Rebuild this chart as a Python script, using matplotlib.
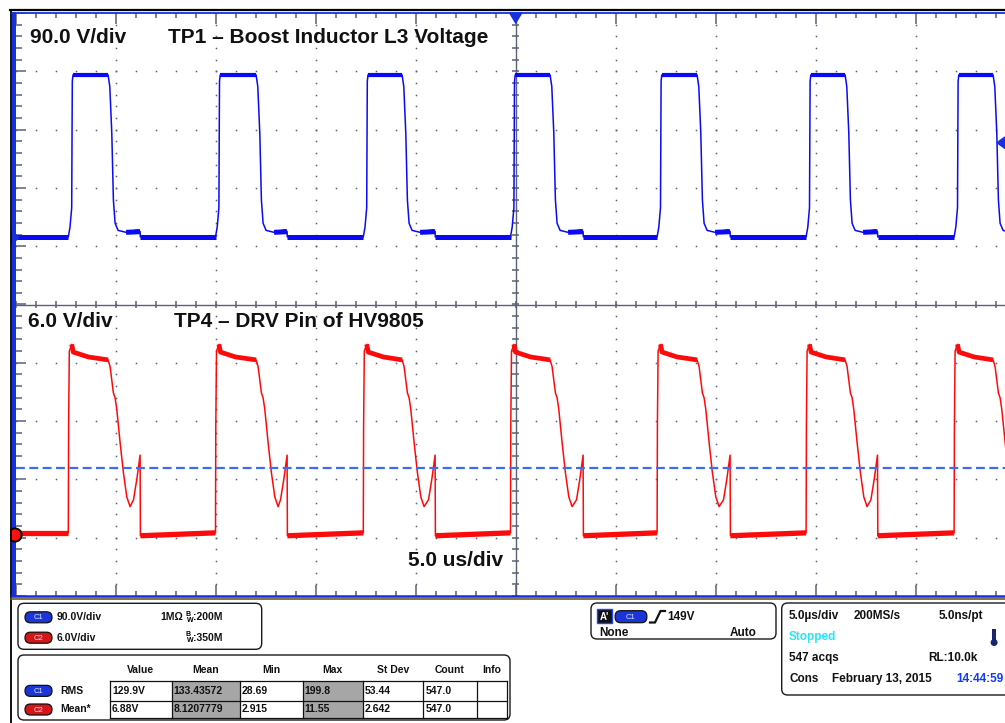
import numpy as np
import matplotlib
matplotlib.use("Agg")
import matplotlib.pyplot as plt
from matplotlib.patches import FancyBboxPatch, Rectangle, Polygon, Circle
from matplotlib.collections import LineCollection

plt.rcParams['font.family'] = ['Liberation Sans', 'DejaVu Sans']

W, H = 1005, 723

# ---- waveform timing (us, 5 us/div) ----
rise_us = [2.63, 9.99, 17.38, 24.74, 32.07, 39.52, 46.92]
fall_us = [4.62, 12.02, 19.32, 26.72, 34.07, 41.47, 48.87]
drop_us = [6.22, 13.57, 20.97, 28.37, 35.72, 43.09, 50.45]

# C1 - boost inductor voltage, 90 V/div (offsets in us, levels in V)
c1_rise_dt = [0.0, 0.085, 0.17, 0.2, 0.235]
c1_rise_v = [0, 15, 45, 240, 250]
c1_fall_dt = [0.0, 0.085, 0.185, 0.265, 0.35, 0.5, 0.9]
c1_fall_v = [250, 232, 160, 57, 21, 10, 7]
c1_low_v = 0
c1_bump_v = 8

# C2 - DRV pin, 6 V/div
c2_rise_dt = [0.0, 0.015, 0.05, 0.17, 0.25, 1.0]
c2_rise_v = [0.2, 11.1, 18.9, 19.6, 18.8, 18.3]
c2_fall_dt = [0.0, 0.1, 0.265, 0.35, 0.435, 0.6, 0.765, 0.935, 1.1]
c2_fall_v = [18.0, 17.3, 14.6, 14.1, 12.9, 9.5, 6.4, 3.9, 2.9]
c2_spike_dt = [-0.33, -0.165, 0.0, 0.015]
c2_spike_v = [3.6, 5.7, 8.2, -0.1]
c2_low_v = [-0.1, 0.2]
c2_mean_v = 6.88

# channel setup (volts per div, ground position in div from centre)
c1_vdiv, c1_zero = 90.0, 1.16
c2_vdiv, c2_zero = 6.0, -3.95

# measurement table
tbl_cols = ['Value', 'Mean', 'Min', 'Max', 'St Dev', 'Count', 'Info']
tbl_rows = ['RMS', 'Mean*']
tbl_c1 = ['129.9V', '133.43572', '28.69', '199.8', '53.44', '547.0', '']
tbl_c2 = ['6.88V', '8.1207779', '2.915', '11.55', '2.642', '547.0', '']


def c1_trace():
    t, v, thick = [0.0], [c1_low_v], []
    prev = 0.0
    for tr, tf, td in zip(rise_us, fall_us, drop_us):
        thick.append(([prev, tr], [c1_low_v, c1_low_v], 3.6))
        t += [tr + d for d in c1_rise_dt]
        v += c1_rise_v
        thick.append(([tr + c1_rise_dt[-1], tf], [c1_rise_v[-1], c1_fall_v[0]], 3.0))
        t += [tf + d for d in c1_fall_dt]
        v += c1_fall_v
        t += [td - 0.1, td, td + 0.01]
        v += [c1_bump_v + 3, c1_bump_v, c1_low_v]
        thick.append(([tf + c1_fall_dt[-1], td], [c1_fall_v[-1], c1_bump_v], 3.6))
        prev = td + 0.01
    return np.array(t), np.array(v), thick


def c2_trace():
    t, v, thick = [0.0], [c2_low_v[1]], []
    prev, prev_v = 0.0, c2_low_v[1]
    for tr, tf, td in zip(rise_us, fall_us, drop_us):
        thick.append(([prev, tr], [prev_v, c2_low_v[1]], 3.8))
        t += [tr + d for d in c2_rise_dt]
        v += c2_rise_v
        thick.append(([tr + d for d in c2_rise_dt[3:]] + [tf],
                      c2_rise_v[3:] + [c2_fall_v[0]], 3.4))
        t += [tf + d for d in c2_fall_dt]
        v += c2_fall_v
        t += [td + d for d in c2_spike_dt]
        v += c2_spike_v
        prev, prev_v = td + c2_spike_dt[-1], c2_low_v[0]
    return np.array(t), np.array(v), thick


fig = plt.figure(figsize=(W / 100, H / 100), dpi=100)
fig.patch.set_facecolor('white')

# scope screen: 10 x 10 divisions, 100 px by 58.3 px each
left_px, top_px, dx_px, dy_px = 15.7, 13.0, 100.0, 58.3
ax = fig.add_axes([left_px / W, 1 - (top_px + 10 * dy_px) / H,
                   10 * dx_px / W, 10 * dy_px / H])
ax.set_xlim(0, 50)
ax.set_ylim(-5, 5)
ax.axis('off')
ax.set_zorder(1)

grid_c = '#5a6172'
for xv in [5, 10, 15, 20, 30, 35, 40, 45]:
    ys = np.arange(-5, 5.001, 0.2)
    ax.plot(np.full_like(ys, xv), ys, ls='none', marker='s', ms=1.1,
            mew=0, color=grid_c)
for yv in [-4, -3, -2, -1, 1, 2, 3, 4]:
    xs = np.arange(0, 50.001, 1.0)
    ax.plot(xs, np.full_like(xs, yv), ls='none', marker='s', ms=1.1,
            mew=0, color=grid_c)
ax.axvline(25, color=grid_c, lw=1.0)
ax.axhline(0, color=grid_c, lw=1.0)

segs = []
for yv in np.arange(-5, 5.001, 0.2):
    segs.append([(25 - 0.17, yv), (25 + 0.17, yv)])
    major = abs(yv - round(yv)) < 1e-6
    segs.append([(0, yv), (0.5 if major else 0.3, yv)])
for xv in np.arange(0, 50.001, 1.0):
    segs.append([(xv, -0.06), (xv, 0.06)])
    major = int(round(xv)) % 5 == 0
    ln = 0.19 if major else 0.08
    segs.append([(xv, 5), (xv, 5 - ln)])
    segs.append([(xv, -5), (xv, -5 + ln)])
ax.add_collection(LineCollection(segs, colors=grid_c, linewidths=1.1))

blue, red = '#0a0af5', '#ff0a0a'
t1, v1, thick1 = c1_trace()
ax.plot(t1, c1_zero + v1 / c1_vdiv, color=blue, lw=1.1)
for ts, vs, lw in thick1:
    ax.plot(ts, c1_zero + np.array(vs) / c1_vdiv, color=blue, lw=lw,
            solid_capstyle='butt')
t2, v2, thick2 = c2_trace()
ax.plot(t2, c2_zero + v2 / c2_vdiv, color=red, lw=1.1)
for ts, vs, lw in thick2:
    ax.plot(ts, c2_zero + np.array(vs) / c2_vdiv, color=red, lw=lw,
            solid_capstyle='butt')
ax.axhline(c2_zero + c2_mean_v / c2_vdiv, color='#3b6cf2', lw=1.6,
           dashes=(4, 2))

# overlay in pixel coordinates for frame, labels and status panel
ov = fig.add_axes([0, 0, 1, 1])
ov.set_xlim(0, W)
ov.set_ylim(H, 0)
ov.axis('off')
ov.set_zorder(2)
ov.patch.set_visible(False)

ov.plot([10, W], [10, 10], color='black', lw=1.6)
ov.plot([10.5, 10.5], [10, H], color='black', lw=1.3)
ov.plot([12, W], [12.6, 12.6], color='#1530e0', lw=1.3)
ov.add_patch(Rectangle((11.8, 12), 4, 585, color='#1530e0', lw=0))
ov.plot([12, W], [596, 596], color='#1530e0', lw=1.8)
ov.plot([11, W], [598.8, 598.8], color='#6e5a28', lw=1.2)

ov.add_patch(Polygon([(509.7, 13), (521.7, 13), (515.7, 23)], color='#1530e0'))
ov.add_patch(Polygon([(1005, 137), (1005, 148.5), (997, 142.7)], color='#1530e0'))
ov.add_patch(Polygon([(12, 231), (12, 244), (19, 237.5)], color='#1530e0'))
ov.add_patch(Circle((15, 535), 6.6, fc='#ff1010', ec='black', lw=1.4))
ov.add_patch(Rectangle((0, 525), 10, 22, color='white', lw=0))

big = dict(fontsize=15, fontweight='bold', color='#111111', va='baseline')
ov.text(30, 43, '90.0 V/div', **big)
ov.text(168, 43, 'TP1 \u2013 Boost Inductor L3 Voltage', **big)
ov.text(28, 327, '6.0 V/div', **big)
ov.text(174, 327, 'TP4 \u2013 DRV Pin of HV9805', **big)
ov.text(503, 566, '5.0 us/div', ha='right', **big)


def box(x0, y0, x1, y1):
    ov.add_patch(FancyBboxPatch((x0, y0), x1 - x0, y1 - y0,
                                boxstyle='round,pad=0,rounding_size=6',
                                fc='white', ec='#1a1a1a', lw=1.0))


def pill(xc, yc, label, fc, w=27, h=11):
    ov.add_patch(FancyBboxPatch((xc - w / 2, yc - h / 2), w, h,
                                boxstyle='round,pad=0,rounding_size=5.5',
                                fc=fc, ec='#111111', lw=0.9))
    ov.text(xc, yc + 0.5, label, fontsize=5.5, color='#dde3ff',
            ha='center', va='center')


sm = dict(fontsize=7.5, fontweight='bold', color='#111111', va='center')
md = dict(fontsize=8.5, fontweight='bold', color='#111111', va='center')
c1_fc, c2_fc = '#1a36d8', '#d41616'

# channel box
box(18, 603.3, 261.7, 649.3)
pill(38.5, 617.3, 'C1', c1_fc)
pill(38.5, 637.7, 'C2', c2_fc)
ov.text(57, 617.5, '90.0V/div', **sm)
ov.text(57, 638, '6.0V/div', **sm)
ov.text(160, 617.5, '1M\u03a9', **sm)
for yy, bw in [(617.5, ':200M'), (638, ':350M')]:
    ov.text(185.5, yy - 3.5, 'B', fontsize=5, fontweight='bold', va='center')
    ov.text(187, yy + 2.5, 'W', fontsize=5, fontweight='bold', va='center')
    ov.text(193, yy, bw, **sm)

# measurement table
box(18, 655, 510, 720)
col_x = [110, 171.7, 240, 302.7, 362.7, 423.3, 476.7, 507.3]
row_y = [681, 700.7, 718.3]
for ci in (1, 3):
    ov.add_patch(Rectangle((col_x[ci], row_y[0]), col_x[ci + 1] - col_x[ci],
                           row_y[2] - row_y[0], fc='#a6a6a6', lw=0))
for xx in col_x:
    ov.plot([xx, xx], [row_y[0], row_y[2]], color='#111111', lw=0.9)
for yy in row_y:
    ov.plot([col_x[0], col_x[-1]], [yy, yy], color='#111111', lw=0.9)
for i, name in enumerate(tbl_cols):
    ov.text((col_x[i] + col_x[i + 1]) / 2, 670, name, ha='center', **sm)
for r, (lab, vals, fc, cl) in enumerate([(tbl_rows[0], tbl_c1, c1_fc, 'C1'),
                                         (tbl_rows[1], tbl_c2, c2_fc, 'C2')]):
    yc = (row_y[r] + row_y[r + 1]) / 2
    pill(38.5, yc, cl, fc)
    ov.text(60, yc, lab, **sm)
    for i, val in enumerate(vals):
        ov.text(col_x[i] + 2, yc, val, **sm)

# trigger box
box(591, 603, 776, 639)
ov.add_patch(Rectangle((596.7, 609.3), 15, 14, fc='#111111', ec='#2244ff', lw=1))
ov.text(604.2, 616.5, "A'", fontsize=7, fontweight='bold', color='white',
        ha='center', va='center')
pill(631, 616.7, 'C1', c1_fc, w=31.7, h=12)
ov.plot([650, 655, 660.5, 665], [622.5, 622.5, 611, 611], color='#111111', lw=1.6)
ov.text(667, 616.5, '149V', **md)
ov.text(599, 633.3, 'None', **md)
ov.text(757, 633.3, 'Auto', ha='right', **md)

# timebase / acquisition box
box(781.7, 603, 1015, 695)
ov.text(789, 616, '5.0\u00b5s/div', **md)
ov.text(854, 616, '200MS/s', **md)
ov.text(939, 616, '5.0ns/pt', **md)
ov.text(789, 636.7, 'Stopped', fontsize=8.5, fontweight='bold',
        color='#25e6f6', va='center')
ov.add_patch(Rectangle((992.2, 629), 3.8, 12, fc='#1a2570', lw=0))
ov.add_patch(Circle((994.1, 642.5), 3.5, fc='#1a2570', lw=0))
ov.text(789, 658.3, '547 acqs', **md)
ov.text(928, 658.3, 'RL:10.0k', **md)
ov.text(789, 679.3, 'Cons', **md)
ov.text(831.7, 679.3, 'February 13, 2015', **md)
ov.text(956.7, 679.3, '14:44:59', fontsize=8.5, fontweight='bold',
        color='#1038ff', va='center')

fig.savefig('out.png', dpi=100)
